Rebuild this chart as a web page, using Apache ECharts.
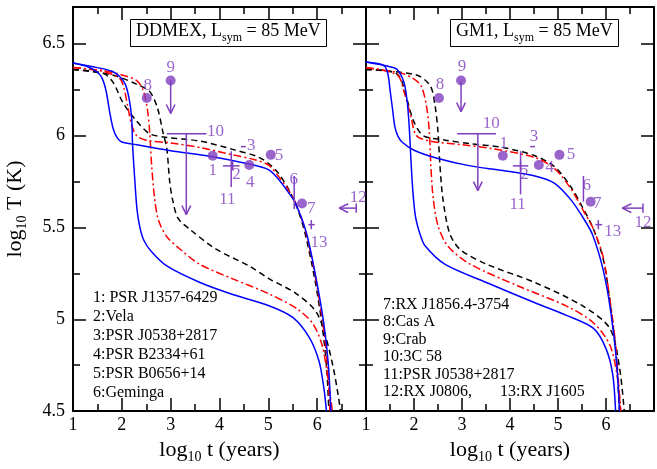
<!DOCTYPE html>
<html>
<head>
<meta charset="utf-8">
<script src="https://cdn.jsdelivr.net/npm/echarts@6/dist/echarts.min.js"></script>
<style>
  html, body { margin: 0; padding: 0; background: #fff; }
  #chart { width: 657px; height: 469px; }
</style>
</head>
<body>
<div id="chart"></div>
<script>
// cooling curves, log10 t (years) vs log10 T (K)
// A = early plateau (fast drop to ~6.0), B = late drop
const ddBlueA = [[1.0,6.395],[1.3,6.375],[1.5,6.345],[1.6,6.31],[1.68,6.24],[1.75,6.13],[1.82,6.04],[1.9,5.99],[2.0,5.965],[2.3,5.95],[3.0,5.918],[3.86,5.885],[4.6,5.845],[5.0,5.815],[5.2,5.765],[5.4,5.695],[5.55,5.635],[5.78,5.47],[5.98,5.22],[6.14,4.97],[6.23,4.75],[6.28,4.5]];
const ddBlueB = [[1.0,6.395],[1.5,6.37],[1.8,6.35],[1.96,6.32],[2.07,6.28],[2.15,6.2],[2.2,6.1],[2.22,5.95],[2.26,5.78],[2.31,5.6],[2.37,5.5],[2.45,5.43],[2.6,5.37],[2.92,5.29],[3.6,5.2],[4.27,5.135],[5.0,5.075],[5.5,5.01],[5.84,4.9],[6.04,4.77],[6.14,4.62],[6.19,4.5]];
const ddRedA = [[1.0,6.37],[1.6,6.35],[1.96,6.31],[2.05,6.25],[2.12,6.16],[2.2,6.06],[2.3,6.0],[2.5,5.975],[3.0,5.96],[3.6,5.935],[4.27,5.895],[4.7,5.87],[5.0,5.84],[5.2,5.78],[5.37,5.72],[5.55,5.64],[5.77,5.47],[5.97,5.22],[6.12,4.97],[6.21,4.75],[6.26,4.5]];
const ddRedB = [[1.0,6.37],[1.6,6.355],[2.0,6.33],[2.3,6.3],[2.43,6.25],[2.52,6.15],[2.57,6.02],[2.61,5.84],[2.67,5.66],[2.75,5.54],[2.92,5.45],[3.2,5.38],[3.59,5.3],[4.27,5.22],[5.0,5.14],[5.57,5.06],[5.9,4.98],[6.1,4.86],[6.22,4.68],[6.31,4.5]];
const ddBlackA = [[1.0,6.36],[1.61,6.34],[1.82,6.29],[2.02,6.18],[2.3,6.08],[2.57,6.01],[2.92,5.99],[3.6,5.97],[4.27,5.925],[4.82,5.88],[5.16,5.81],[5.43,5.7],[5.6,5.6],[5.75,5.47],[5.95,5.22],[6.1,4.97],[6.19,4.75],[6.24,4.5]];
const ddBlackB = [[1.0,6.36],[1.8,6.33],[2.3,6.28],[2.57,6.24],[2.73,6.15],[2.84,6.02],[2.92,5.93],[2.98,5.75],[3.04,5.65],[3.15,5.55],[3.39,5.49],[3.94,5.38],[4.61,5.29],[5.02,5.22],[5.57,5.14],[5.98,5.04],[6.18,4.9],[6.35,4.71],[6.48,4.5]];

const gmBlueA = [[1.0,6.4],[1.38,6.38],[1.46,6.33],[1.5,6.25],[1.55,6.15],[1.6,6.05],[1.66,6.0],[1.75,5.965],[2.0,5.92],[2.5,5.875],[3.17,5.835],[3.85,5.81],[4.52,5.78],[4.93,5.74],[5.27,5.65],[5.53,5.55],[5.72,5.46],[5.94,5.27],[6.1,5.04],[6.22,4.77],[6.28,4.5]];
const gmBlueB = [[1.0,6.4],[1.5,6.375],[1.65,6.36],[1.79,6.29],[1.86,6.18],[1.9,6.05],[1.93,5.9],[1.97,5.72],[2.03,5.56],[2.13,5.46],[2.23,5.4],[2.64,5.3],[3.51,5.2],[4.52,5.09],[5.19,5.02],[5.74,4.95],[6.0,4.84],[6.14,4.7],[6.2,4.5]];
const gmRedA = [[1.0,6.37],[1.65,6.33],[1.79,6.24],[1.93,6.11],[2.05,6.0],[2.34,5.97],[3.0,5.95],[3.61,5.93],[4.52,5.88],[4.93,5.82],[5.27,5.71],[5.53,5.59],[5.74,5.49],[5.94,5.34],[6.07,5.13],[6.2,4.86],[6.3,4.5]];
const gmRedB = [[1.0,6.37],[1.73,6.34],[1.99,6.31],[2.15,6.27],[2.26,6.16],[2.32,6.02],[2.35,5.84],[2.4,5.66],[2.5,5.51],[2.7,5.4],[3.17,5.3],[4.18,5.18],[5.19,5.07],[5.74,4.98],[6.08,4.86],[6.24,4.68],[6.31,4.5]];
const gmBlackA = [[1.0,6.36],[1.65,6.335],[1.85,6.2],[1.99,6.08],[2.19,6.0],[2.66,5.975],[3.2,5.955],[3.85,5.935],[4.52,5.89],[4.93,5.83],[5.27,5.72],[5.53,5.6],[5.74,5.49],[5.94,5.33],[6.07,5.12],[6.2,4.84],[6.28,4.5]];
const gmBlackB = [[1.0,6.36],[2.05,6.33],[2.34,6.27],[2.44,6.16],[2.5,6.02],[2.54,5.84],[2.6,5.66],[2.74,5.47],[2.96,5.38],[3.51,5.3],[4.52,5.2],[5.53,5.07],[6.08,4.95],[6.28,4.74],[6.38,4.5]];

// observed stars: dots (1,4,5,7,8,9)
const ddDots = [[3.86,5.89],[4.61,5.84],[5.05,5.895],[5.69,5.63],[2.51,6.205],[3.0,6.3]];
const gmDots = [[3.85,5.89],[4.6,5.84],[5.03,5.895],[5.68,5.64],[2.52,6.205],[2.98,6.3]];
// error bars / limits: [x1, y1, x2, y2, arrowhead]
const ddBars = [[4.07,5.835,4.41,5.835,0],[4.27,5.81,4.27,5.86,0],[4.24,5.72,4.24,5.915,0],[4.44,5.94,4.54,5.94,0],[5.53,5.6,5.53,5.78,0],[2.92,6.01,3.73,6.01,0],[3.32,6.01,3.32,5.57,1],[3.0,6.3,3.0,6.12,1],[6.8,5.605,6.45,5.605,1],[6.8,5.58,6.8,5.63,0],[5.82,5.515,5.95,5.515,0],[5.88,5.49,5.88,5.54,0]];
const gmBars = [[4.06,5.835,4.38,5.835,0],[4.22,5.81,4.22,5.86,0],[4.22,5.68,4.22,5.915,0],[4.42,5.94,4.52,5.94,0],[5.53,5.64,5.53,5.78,0],[2.9,6.01,3.71,6.01,0],[3.33,6.01,3.33,5.7,1],[2.98,6.3,2.98,6.13,1],[6.77,5.605,6.34,5.605,1],[6.77,5.58,6.77,5.63,0],[5.78,5.515,5.92,5.515,0],[5.84,5.49,5.84,5.54,0]];
// star number labels
const ddLabels = [[3.86,5.81,'1'],[4.35,5.79,'2'],[4.65,5.945,'3'],[4.63,5.745,'4'],[5.22,5.89,'5'],[5.52,5.76,'6'],[5.88,5.605,'7'],[2.53,6.275,'8'],[3.0,6.37,'9'],[3.92,6.02,'10'],[4.16,5.65,'11'],[6.84,5.665,'12'],[6.04,5.42,'13']];
const gmLabels = [[3.87,5.955,'1'],[4.3,5.79,'2'],[4.5,5.995,'3'],[4.83,5.825,'4'],[5.27,5.895,'5'],[5.6,5.73,'6'],[5.82,5.63,'7'],[2.54,6.28,'8'],[3.0,6.375,'9'],[3.61,6.065,'10'],[4.16,5.625,'11'],[6.77,5.525,'12'],[6.14,5.475,'13']];

const leftNames = ['1: PSR J1357-6429','2:Vela','3:PSR J0538+2817','4:PSR B2334+61','5:PSR B0656+14','6:Geminga'];
const rightNames = ['7:RX J1856.4-3754','8:Cas A','9:Crab','10:3C 58','11:PSR J0538+2817','12:RX J0806,       13:RX J1605'];

const FONT = '"Liberation Serif", "DejaVu Serif", serif';
const PURPLE = '#7f3fbf';

const subRich = {
  n: { fontFamily: FONT, fontSize: 22, color: '#000', verticalAlign: 'top' },
  s: { fontFamily: FONT, fontSize: 14, color: '#000', verticalAlign: 'top', padding: [11, 0, 0, 0] }
};
const titleRich = {
  n: { fontFamily: FONT, fontSize: 18, fontWeight: 'normal', color: '#000', verticalAlign: 'top' },
  s: { fontFamily: FONT, fontSize: 12, fontWeight: 'normal', color: '#000', verticalAlign: 'top', padding: [10, 0, 0, 0] }
};

function xAxis(gridIndex, pos) {
  const bottom = pos === 'bottom';
  return {
    type: 'value', gridIndex, position: pos, min: 1, max: 7, interval: 1,
    axisLine: { show: true, onZero: false, lineStyle: { color: '#000', width: 2 } },
    axisTick: { show: true, inside: true, length: 13, lineStyle: { color: '#000', width: 1.5 } },
    minorTick: { show: true, splitNumber: 2, length: 7, lineStyle: { color: '#000', width: 1.5 } },
    splitLine: { show: false },
    axisLabel: { show: bottom, margin: 5, color: '#000', fontFamily: FONT, fontSize: 18,
      formatter: v => (v >= 6.5 ? '' : String(v)) },
    name: bottom ? '{n|log}{s|10}{n| t (years)}' : '',
    nameLocation: 'middle', nameGap: 24,
    nameTextStyle: { rich: subRich }
  };
}

function yAxis(gridIndex, pos, labels) {
  return {
    type: 'value', gridIndex, position: pos, min: 4.5, max: 6.7, interval: 0.5,
    axisLine: { show: true, onZero: false, lineStyle: { color: '#000', width: 2 } },
    axisTick: { show: true, inside: true, length: 13, lineStyle: { color: '#000', width: 1.5 } },
    minorTick: { show: true, splitNumber: 2, length: 7, lineStyle: { color: '#000', width: 1.5 } },
    splitLine: { show: false },
    axisLabel: { show: labels, margin: 8, color: '#000', fontFamily: FONT, fontSize: 18,
      formatter: v => (Math.abs(v * 2 - Math.round(v * 2)) > 1e-6 ? '' : String(v)) },
    name: labels ? '{n|log}{s|10}{n| T (K)}' : '',
    nameLocation: 'middle', nameGap: 44, nameRotate: 90,
    nameTextStyle: { rich: subRich }
  };
}

function curve(data, color, type, xi) {
  return {
    type: 'line', data, xAxisIndex: xi, yAxisIndex: xi, showSymbol: false, symbol: 'none',
    smooth: 0.3, clip: true,
    lineStyle: { color, width: 1.5, type }
  };
}

function renderBar(params, api) {
  const p1 = api.coord([api.value(0), api.value(1)]);
  const p2 = api.coord([api.value(2), api.value(3)]);
  const st = { stroke: PURPLE, lineWidth: 1.5 };
  const children = [{ type: 'line', shape: { x1: p1[0], y1: p1[1], x2: p2[0], y2: p2[1] }, style: st }];
  if (api.value(4)) {
    const a = Math.atan2(p2[1] - p1[1], p2[0] - p1[0]);
    [-0.45, 0.45].forEach(d => {
      children.push({ type: 'line', shape: { x1: p2[0], y1: p2[1],
        x2: p2[0] - 10 * Math.cos(a + d), y2: p2[1] - 10 * Math.sin(a + d) }, style: st });
    });
  }
  return { type: 'group', children };
}

function obs(dots, bars, labels, xi) {
  return [
    { type: 'custom', xAxisIndex: xi, yAxisIndex: xi, data: bars, renderItem: renderBar,
      encode: { x: [0, 2], y: [1, 3] }, z: 5 },
    { type: 'scatter', xAxisIndex: xi, yAxisIndex: xi, data: dots, symbolSize: 10,
      itemStyle: { color: PURPLE }, z: 6 },
    { type: 'scatter', xAxisIndex: xi, yAxisIndex: xi, data: labels, symbolSize: 1,
      itemStyle: { color: 'transparent' }, z: 6,
      label: { show: true, position: 'inside', formatter: p => p.data[2],
        color: PURPLE, fontFamily: FONT, fontSize: 17 } }
  ];
}

const DASH = [6, 4];
const DASHDOT = [8, 3, 2, 3];

const chart = echarts.init(document.getElementById('chart'));
chart.setOption({
  animation: false,
  backgroundColor: '#fff',
  title: [
    { text: '{n|DDMEX, L}{s|sym}{n| = 85 MeV}', left: 130, top: 19, padding: [3, 6, 3, 6],
      borderColor: '#000', borderWidth: 1, textStyle: { fontWeight: 'normal', rich: titleRich } },
    { text: '{n|GM1, L}{s|sym}{n| = 85 MeV}', left: 450, top: 19, padding: [3, 6, 3, 6],
      borderColor: '#000', borderWidth: 1, textStyle: { fontWeight: 'normal', rich: titleRich } }
  ],
  grid: [
    { left: 73, top: 7, width: 293, height: 410 },
    { left: 366, top: 7, width: 296, height: 410 }
  ],
  xAxis: [xAxis(0, 'bottom'), xAxis(1, 'bottom'), xAxis(0, 'top'), xAxis(1, 'top')],
  yAxis: [yAxis(0, 'left', true), yAxis(1, 'left', false), yAxis(0, 'right', false), yAxis(1, 'right', false)],
  graphic: [
    { type: 'text', left: 93, top: 288, style: { text: leftNames.join('\n'), font: '16px ' + FONT, lineHeight: 19, fill: '#000' } },
    { type: 'text', left: 383, top: 296, style: { text: rightNames.join('\n'), font: '16px ' + FONT, lineHeight: 17.5, fill: '#000' } }
  ],
  series: [
    curve(ddBlackA, '#000', DASH, 0), curve(ddBlackB, '#000', DASH, 0),
    curve(ddRedA, '#ff0000', DASHDOT, 0), curve(ddRedB, '#ff0000', DASHDOT, 0),
    curve(ddBlueA, '#0000ff', 'solid', 0), curve(ddBlueB, '#0000ff', 'solid', 0),
    curve(gmBlackA, '#000', DASH, 1), curve(gmBlackB, '#000', DASH, 1),
    curve(gmRedA, '#ff0000', DASHDOT, 1), curve(gmRedB, '#ff0000', DASHDOT, 1),
    curve(gmBlueA, '#0000ff', 'solid', 1), curve(gmBlueB, '#0000ff', 'solid', 1),
    ...obs(ddDots, ddBars, ddLabels, 0),
    ...obs(gmDots, gmBars, gmLabels, 1)
  ]
});
</script>
</body>
</html>
